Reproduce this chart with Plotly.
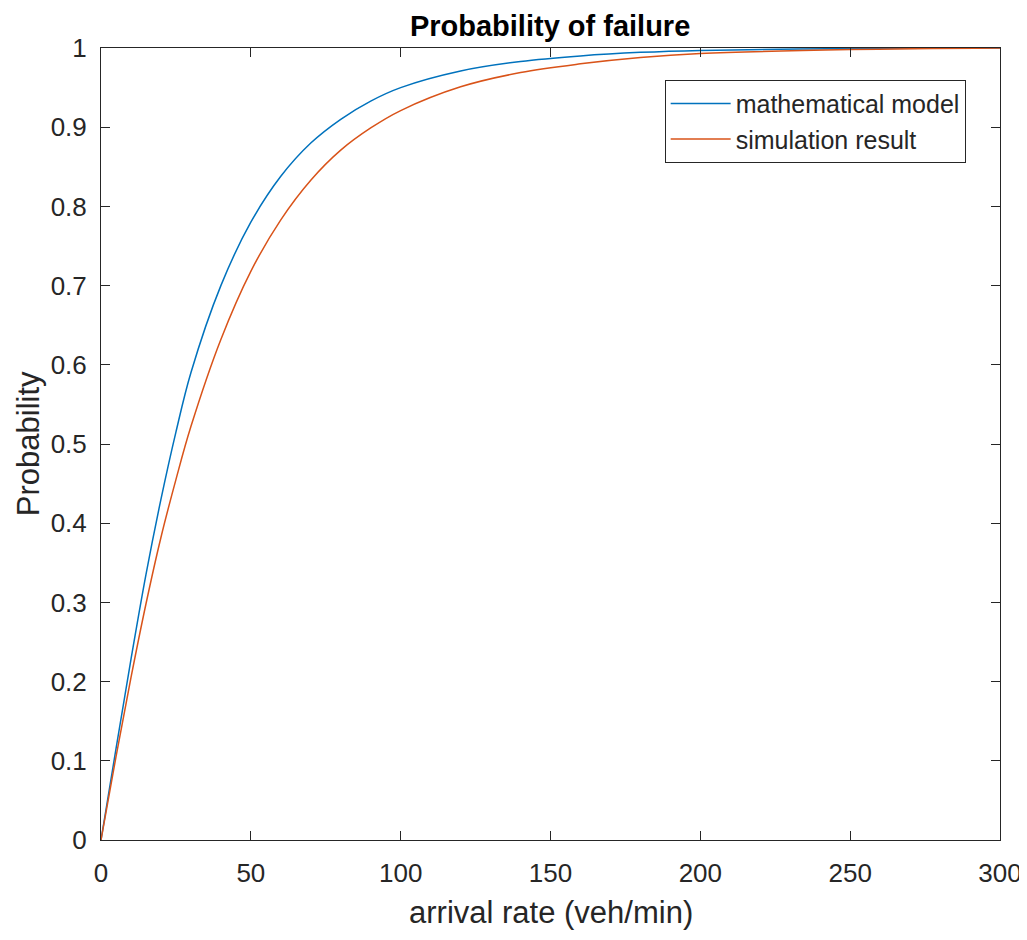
import plotly.graph_objects as go

# arrival rate (veh/min)
rate = [0, 5, 10, 15, 20, 25, 30, 40, 50, 60, 70, 80, 90, 100,
        120, 140, 160, 180, 200, 250, 300]

# probability of failure
model = [0, 0.115, 0.228, 0.335, 0.43, 0.515, 0.59, 0.70, 0.78, 0.838, 0.88,
         0.91, 0.933, 0.95, 0.971, 0.983, 0.99, 0.9945, 0.997, 0.9993, 1.0]
simulation = [0, 0.105, 0.205, 0.298, 0.382, 0.455, 0.522, 0.632, 0.718, 0.783, 0.833,
              0.871, 0.899, 0.921, 0.951, 0.969, 0.980, 0.988, 0.993, 0.998, 1.0]

y_ticks = [0, 0.1, 0.2, 0.3, 0.4, 0.5, 0.6, 0.7, 0.8, 0.9, 1]
y_labels = ['0', '0.1', '0.2', '0.3', '0.4', '0.5', '0.6', '0.7', '0.8', '0.9', '1']
x_ticks = [0, 50, 100, 150, 200, 250, 300]

FONT = 'Liberation Sans, Arial, sans-serif'
AXC = '#262626'

data = [
    go.Scatter(x=rate, y=model, mode='lines', name='mathematical model',
               line=dict(color='#0072BD', width=1.5, shape='spline', smoothing=1)),
    go.Scatter(x=rate, y=simulation, mode='lines', name='simulation result',
               line=dict(color='#D95319', width=1.5, shape='spline', smoothing=1)),
]

axis_common = dict(showline=True, linecolor=AXC, linewidth=1, mirror='ticks',
                   ticks='inside', ticklen=9, tickcolor=AXC, showgrid=False,
                   zeroline=False, automargin=False,
                   tickfont=dict(family=FONT, size=26, color=AXC))

# the page puts the figure 8px in from the top-left corner
layout = go.Layout(
    width=1019, height=932,
    margin=dict(l=93, r=27, t=40, b=100),
    paper_bgcolor='white', plot_bgcolor='white',
    font=dict(family=FONT, color=AXC),
    title=dict(text='<b>Probability of failure</b>', x=0.532, xanchor='center',
               y=0.981, yanchor='middle', font=dict(family=FONT, size=29, color='black')),
    xaxis=dict(range=[0, 300], tickvals=x_ticks, ticklabelstandoff=10, **axis_common),
    yaxis=dict(range=[0, 1], tickvals=y_ticks, ticktext=y_labels,
               ticklabelstandoff=8, **axis_common),
    legend=dict(x=0.627, y=0.96, xanchor='left', yanchor='top',
                bgcolor='white', bordercolor=AXC, borderwidth=1,
                font=dict(family=FONT, size=25, color=AXC), itemwidth=60,
                tracegroupgap=0),
    showlegend=True,
    annotations=[
        dict(text='arrival rate (veh/min)', xref='paper', yref='paper', x=0.5, y=-0.091,
             xanchor='center', yanchor='middle', showarrow=False,
             font=dict(family=FONT, size=31, color=AXC)),
        dict(text='Probability', xref='paper', yref='paper', x=-0.081, y=0.5,
             xanchor='center', yanchor='middle', showarrow=False, textangle=-90,
             font=dict(family=FONT, size=31, color=AXC)),
    ],
)

fig = go.Figure(data=data, layout=layout)
fig.write_html('out.html')
